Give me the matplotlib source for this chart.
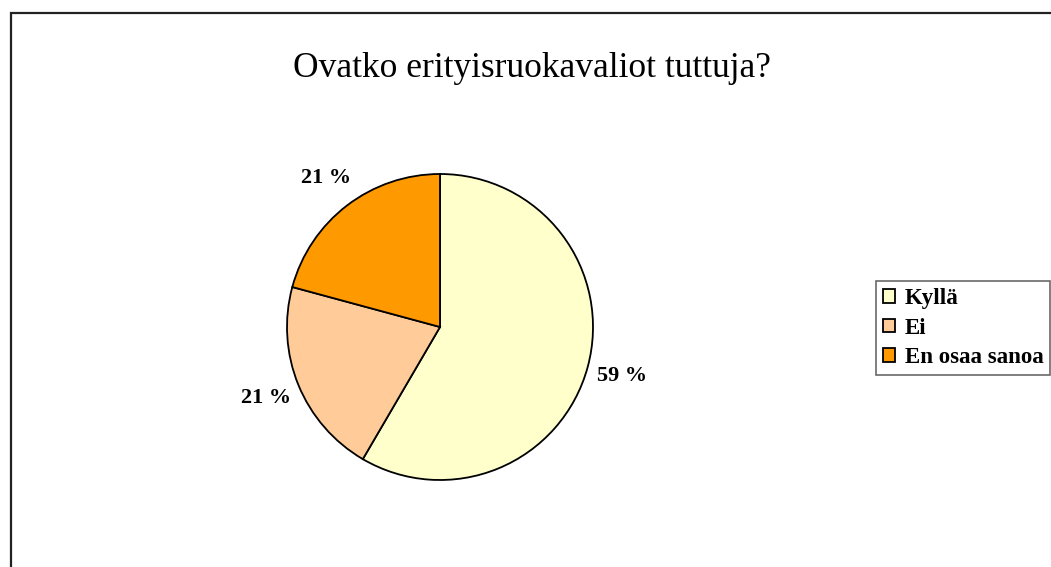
import matplotlib
matplotlib.use("Agg")
import matplotlib.pyplot as plt
from matplotlib.patches import Rectangle

categories = ["Kyllä", "Ei", "En osaa sanoa"]
values = [59, 21, 21]
pct_labels = ["59 %", "21 %", "21 %"]
colors = ["#FFFFCC", "#FFCC99", "#FF9900"]

W, H = 1051, 567
fig = plt.figure(figsize=(W / 100, H / 100), dpi=100)
fig.patch.set_facecolor("white")

# outer frame
fig.patches.append(Rectangle((10.5 / W, -0.1), 1.2, 1 - 12.5 / H + 0.1,
                             transform=fig.transFigure, fill=False,
                             edgecolor="#222222", linewidth=1.6))

cx, cy, r = 440, 327, 153
ax = fig.add_axes([(cx - r) / W, (H - cy - r) / H, 2 * r / W, 2 * r / H])
wedges, texts = ax.pie(values, colors=colors, startangle=90, counterclock=False,
                       labels=pct_labels, labeldistance=1.23,
                       wedgeprops=dict(edgecolor="black", linewidth=1.3),
                       textprops=dict(fontfamily="Liberation Serif", fontweight="bold",
                                      fontsize=16))
for t in texts:
    t.set_ha("center")
    t.set_va("center")
ax.set_xlim(-1, 1)
ax.set_ylim(-1, 1)
ax.set_aspect("equal")
ax.axis("off")

fig.text(532 / W, 1 - 69 / H, "Ovatko erityisruokavaliot tuttuja?",
         ha="center", va="center", fontfamily="Liberation Serif", fontsize=25.5)

leg = fig.legend(wedges, categories, loc="upper left",
                 bbox_to_anchor=(876 / W, 1 - 281 / H),
                 prop=dict(family="Liberation Serif", weight="bold", size=16.5),
                 frameon=True, fancybox=False, shadow=False,
                 handlelength=0.55, handleheight=0.55, handletextpad=0.4,
                 borderpad=0.3, labelspacing=0.38, borderaxespad=0)
leg.get_frame().set_edgecolor("#444444")
leg.get_frame().set_linewidth(1.2)

fig.savefig("out.png", dpi=100)
